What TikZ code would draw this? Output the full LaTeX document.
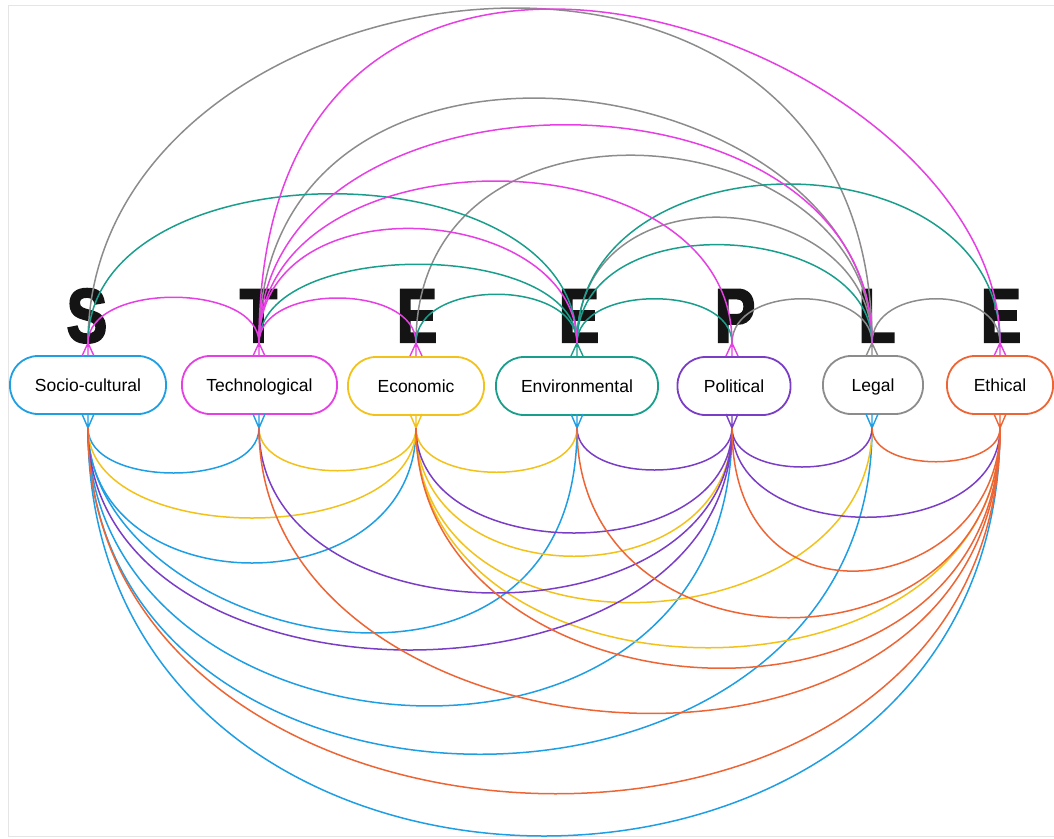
\documentclass[tikz,border=0pt]{standalone}
\usepackage{fontspec}
\usepackage{graphicx}
\setmainfont{Liberation Sans}
\newfontfamily\bigletter{Liberation Sans}[FakeBold=3.2]
\definecolor{cS}{HTML}{1E9EE3}
\definecolor{cT}{HTML}{E63FE3}
\definecolor{cE}{HTML}{F2C21B}
\definecolor{cV}{HTML}{1A9E8C}
\definecolor{cP}{HTML}{7A3DC6}
\definecolor{cL}{HTML}{8C8C8C}
\definecolor{cX}{HTML}{EE6535}
\newcommand\narrowletter[1]{\scalebox{0.8}[1]{#1}}
\begin{document}
\begin{tikzpicture}[x=1pt,y=-1pt,
  box/.style={draw, line width=1.8pt, rounded corners=28pt, minimum height=58pt,
    fill=white, inner sep=0pt, text height=13pt, text depth=1pt,
    font=\fontsize{17.5}{20}\selectfont},
  letter/.style={anchor=base, inner sep=0pt, text=black!92,
    font=\bigletter\bfseries\fontsize{76}{76}\selectfont},
  link/.style={line width=1.5pt},
  foot/.style={line width=1.4pt}]
\useasboundingbox (0,0) rectangle (1054,838);
\draw[gray!20, line width=1pt] (1054,5) -- (8,5) -- (8,836) -- (1054,836);

% big letters
\node[letter] (lS)  at (87,342)    {\narrowletter{S}};
\node[letter] (lT)  at (258.5,342) {\narrowletter{T}};
\node[letter] (lE1) at (417,342)   {\narrowletter{E}};
\node[letter] (lE2) at (579,342)   {\narrowletter{E}};
\node[letter] (lP)  at (735,342)   {\narrowletter{P}};
\node[letter] (lL)  at (877,342)   {\narrowletter{L}};
\node[letter] (lE3) at (1001,342)  {\narrowletter{E}};

% boxes
\node[box, draw=cS, minimum width=156pt] (S)  at (88,385)    {Socio-cultural};
\node[box, draw=cT, minimum width=155pt] (T)  at (259.5,385) {Technological};
\node[box, draw=cE, minimum width=136pt] (Ec) at (416,386)   {Economic};
\node[box, draw=cV, minimum width=162pt] (Ev) at (577,386)   {Environmental};
\node[box, draw=cP, minimum width=113pt] (P)  at (734,386)   {Political};
\node[box, draw=cL, minimum width=100pt] (L)  at (873,385)   {Legal};
\node[box, draw=cX, minimum width=106pt] (Et) at (1000,385)  {Ethical};

% connection points and crow's feet
\foreach \n/\x/\ct/\cb in {S/88/cT/cS, T/259/cT/cS, Ec/416/cT/cE, Ev/577/cV/cS,
                           P/732/cT/cP, L/872/cL/cS, Et/1000/cT/cX} {
  \coordinate (\n t) at (\x,343);
  \coordinate (\n b) at (\x,428);
  \draw[foot, \ct] (\x-6,356) -- (\n t) -- (\x+6,356) (\n t) -- (\x,356);
  \draw[foot, \cb] (\x-6,414) -- (\n b) -- (\x+6,414) (\n b) -- (\x,414);
}

% ---- top arcs ----
% legal (gray)
\draw[link, cL] (St)  .. controls +(0,-391) and +(0,-499) .. (Lt);
\draw[link, cL] (Tt)  .. controls +(0,-370) and +(0,-280) .. (Lt);
\draw[link, cL] (Ect) .. controls +(0,-270) and +(0,-230) .. (Lt);
\draw[link, cL] (Evt) .. controls +(0,-180) and +(0,-155) .. (Lt);
\draw[link, cL] (Pt)  .. controls +(0,-59)  and +(0,-59)  .. (Lt);
\draw[link, cL] (Lt)  .. controls +(0,-59)  and +(0,-59)  .. (Ett);
% environmental (teal)
\draw[link, cV] (Ect) .. controls +(0,-65)  and +(0,-65)  .. (Evt);
\draw[link, cV] (Evt) .. controls +(0,-59)  and +(0,-59)  .. (Pt);
\draw[link, cV] (Tt)  .. controls +(0,-105) and +(0,-105) .. (Evt);
\draw[link, cV] (Evt) .. controls +(0,-140) and +(0,-122) .. (Lt);
\draw[link, cV] (St)  .. controls +(0,-199) and +(0,-199) .. (Evt);
\draw[link, cV] (Evt) .. controls +(0,-212) and +(0,-212) .. (Ett);
% technological (magenta)
\draw[link, cT] (St)  .. controls +(0,-61)  and +(0,-61)  .. (Tt);
\draw[link, cT] (Tt)  .. controls +(0,-60)  and +(0,-60)  .. (Ect);
\draw[link, cT] (Tt)  .. controls +(0,-165) and +(0,-140) .. (Evt);
\draw[link, cT] (Tt)  .. controls +(0,-216) and +(0,-216) .. (Pt);
\draw[link, cT] (Tt)  .. controls +(0,-291) and +(0,-291) .. (Lt);
\draw[link, cT] (Tt)  .. controls +(0,-566) and +(0,-306) .. (Ett);

% ---- bottom arcs ----
% socio-cultural (blue)
\draw[link, cS] (Sb) .. controls +(0,60)  and +(0,60)  .. (Tb);
\draw[link, cS] (Sb) .. controls +(0,180) and +(0,180) .. (Ecb);
\draw[link, cS] (Sb) .. controls +(0,210) and +(0,330) .. (Evb);
\draw[link, cS] (Sb) .. controls +(0,340) and +(0,400) .. (Pb);
\draw[link, cS] (Sb) .. controls +(0,435) and +(0,435) .. (Lb);
\draw[link, cS] (Sb) .. controls +(0,544) and +(0,544) .. (Etb);
% economic (yellow)
\draw[link, cE] (Tb)  .. controls +(0,57)  and +(0,57)  .. (Ecb);
\draw[link, cE] (Ecb) .. controls +(0,59)  and +(0,59)  .. (Evb);
\draw[link, cE] (Sb)  .. controls +(0,120) and +(0,120) .. (Ecb);
\draw[link, cE] (Ecb) .. controls +(0,171) and +(0,171) .. (Pb);
\draw[link, cE] (Ecb) .. controls +(0,250) and +(0,215) .. (Lb);
\draw[link, cE] (Ecb) .. controls +(0,293) and +(0,293) .. (Etb);
% political (purple)
\draw[link, cP] (Evb) .. controls +(0,56)  and +(0,56)  .. (Pb);
\draw[link, cP] (Pb)  .. controls +(0,52)  and +(0,52)  .. (Lb);
\draw[link, cP] (Pb)  .. controls +(0,119) and +(0,119) .. (Etb);
\draw[link, cP] (Ecb) .. controls +(0,140) and +(0,140) .. (Pb);
\draw[link, cP] (Tb)  .. controls +(0,220) and +(0,220) .. (Pb);
\draw[link, cP] (Sb)  .. controls +(0,296) and +(0,296) .. (Pb);
% ethical (orange)
\draw[link, cX] (Lb)  .. controls +(0,45)  and +(0,45)  .. (Etb);
\draw[link, cX] (Pb)  .. controls +(0,215) and +(0,165) .. (Etb);
\draw[link, cX] (Evb) .. controls +(0,253) and +(0,253) .. (Etb);
\draw[link, cX] (Ecb) .. controls +(0,300) and +(0,340) .. (Etb);
\draw[link, cX] (Tb)  .. controls +(0,350) and +(0,410) .. (Etb);
\draw[link, cX] (Sb)  .. controls +(0,470) and +(0,505) .. (Etb);
\end{tikzpicture}
\end{document}
